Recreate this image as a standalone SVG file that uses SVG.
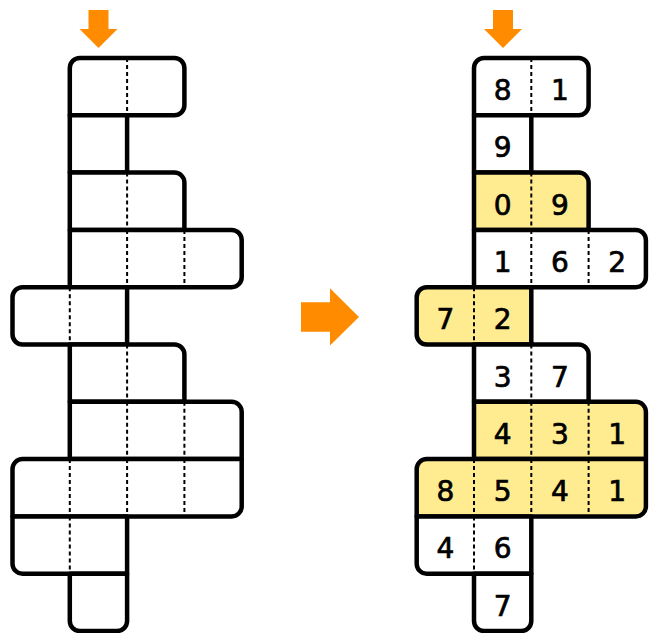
<svg xmlns="http://www.w3.org/2000/svg" width="653" height="633" viewBox="0 0 653 633">
  <style>
    .o{fill:#fff;stroke:#000;stroke-width:4.5;stroke-linejoin:round}
    .y{fill:#FFEB90}
    .d{stroke:#000;stroke-width:2;stroke-dasharray:4 3;fill:none}
    .t{font-family:"DejaVu Sans","Liberation Sans",sans-serif;font-size:28px;text-anchor:middle;fill:#000;stroke:#000;stroke-width:0.7}
    .a{fill:#FF8C00}
  </style>
  <defs>
    <path id="r0" d="M69.8,115.3 V68 A10,10 0 0 1 79.8,58 H174.4 A10,10 0 0 1 184.4,68 V105.3 A10,10 0 0 1 174.4,115.3 Z"/>
    <path id="r1" d="M69.8,115.3 H127.1 V172.6 H69.8 Z"/>
    <path id="r2" d="M69.8,172.6 H174.4 A10,10 0 0 1 184.4,182.6 V229.9 H69.8 Z"/>
    <path id="r3" d="M69.8,229.9 H231.7 A10,10 0 0 1 241.7,239.9 V277.2 A10,10 0 0 1 231.7,287.2 H69.8 Z"/>
    <path id="r4" d="M12.5,297.2 A10,10 0 0 1 22.5,287.2 H127.1 V344.5 H22.5 A10,10 0 0 1 12.5,334.5 Z"/>
    <path id="r5" d="M69.8,344.5 H174.4 A10,10 0 0 1 184.4,354.5 V401.8 H69.8 Z"/>
    <path id="r6" d="M69.8,401.8 H231.7 A10,10 0 0 1 241.7,411.8 V459.1 H69.8 Z"/>
    <path id="r7" d="M12.5,469.1 A10,10 0 0 1 22.5,459.1 H241.7 V506.4 A10,10 0 0 1 231.7,516.4 H12.5 Z"/>
    <path id="r8" d="M12.5,516.4 H127.1 V573.7 H22.5 A10,10 0 0 1 12.5,563.7 Z"/>
    <path id="r9" d="M69.8,573.7 H127.1 V621 A10,10 0 0 1 117.1,631 H79.8 A10,10 0 0 1 69.8,621 Z"/>
    <g id="dashes">
      <path class="d" d="M127.1,58 V115.3 M127.1,172.6 V229.9 M127.1,229.9 V287.2 M184.4,229.9 V287.2 M69.8,287.2 V344.5 M127.1,344.5 V401.8 M127.1,401.8 V459.1 M184.4,401.8 V459.1 M69.8,459.1 V516.4 M127.1,459.1 V516.4 M184.4,459.1 V516.4 M69.8,516.4 V573.7"/>
    </g>
  </defs>

  <g id="left-grid">
    <g id="L-row0"><use href="#r0" class="o"/></g>
    <g id="L-row1"><use href="#r1" class="o"/></g>
    <g id="L-row2"><use href="#r2" class="o"/></g>
    <g id="L-row3"><use href="#r3" class="o"/></g>
    <g id="L-row4"><use href="#r4" class="o"/></g>
    <g id="L-row5"><use href="#r5" class="o"/></g>
    <g id="L-row6"><use href="#r6" class="o"/></g>
    <g id="L-row7"><use href="#r7" class="o"/></g>
    <g id="L-row8"><use href="#r8" class="o"/></g>
    <g id="L-row9"><use href="#r9" class="o"/></g>
    <use href="#dashes"/>
  </g>

  <g id="right-grid" transform="translate(404.2,0)">
    <g id="R-row0"><use href="#r0" class="o"/></g>
    <g id="R-row1"><use href="#r1" class="o"/></g>
    <g id="R-row2"><use href="#r2" class="o y"/></g>
    <g id="R-row3"><use href="#r3" class="o"/></g>
    <g id="R-row4"><use href="#r4" class="o y"/></g>
    <g id="R-row5"><use href="#r5" class="o"/></g>
    <g id="R-row6"><use href="#r6" class="o y"/></g>
    <g id="R-row7"><use href="#r7" class="o y"/></g>
    <g id="R-row8"><use href="#r8" class="o"/></g>
    <g id="R-row9"><use href="#r9" class="o"/></g>
    <use href="#dashes"/>
    <g id="digits" class="t">
      <text x="98.45" y="100">8</text><text x="155.75" y="100">1</text>
      <text x="98.45" y="157.3">9</text>
      <text x="98.45" y="214.6">0</text><text x="155.75" y="214.6">9</text>
      <text x="98.45" y="271.9">1</text><text x="155.75" y="271.9">6</text><text x="213.05" y="271.9">2</text>
      <text x="41.15" y="329.2">7</text><text x="98.45" y="329.2">2</text>
      <text x="98.45" y="386.5">3</text><text x="155.75" y="386.5">7</text>
      <text x="98.45" y="443.8">4</text><text x="155.75" y="443.8">3</text><text x="213.05" y="443.8">1</text>
      <text x="41.15" y="501.1">8</text><text x="98.45" y="501.1">5</text><text x="155.75" y="501.1">4</text><text x="213.05" y="501.1">1</text>
      <text x="41.15" y="558.4">4</text><text x="98.45" y="558.4">6</text>
      <text x="98.45" y="615.7">7</text>
    </g>
  </g>

  <g id="arrows">
    <polygon class="a" points="88.5,10 108.5,10 108.5,29 117.5,29 98.5,48 79.5,29 88.5,29"/>
    <polygon class="a" points="493,10 513,10 513,29 522,29 503,48 484,29 493,29"/>
    <polygon class="a" points="301,302.3 330,302.3 330,288.3 359,317 330,345.5 330,331.7 301,331.7"/>
  </g>
</svg>
